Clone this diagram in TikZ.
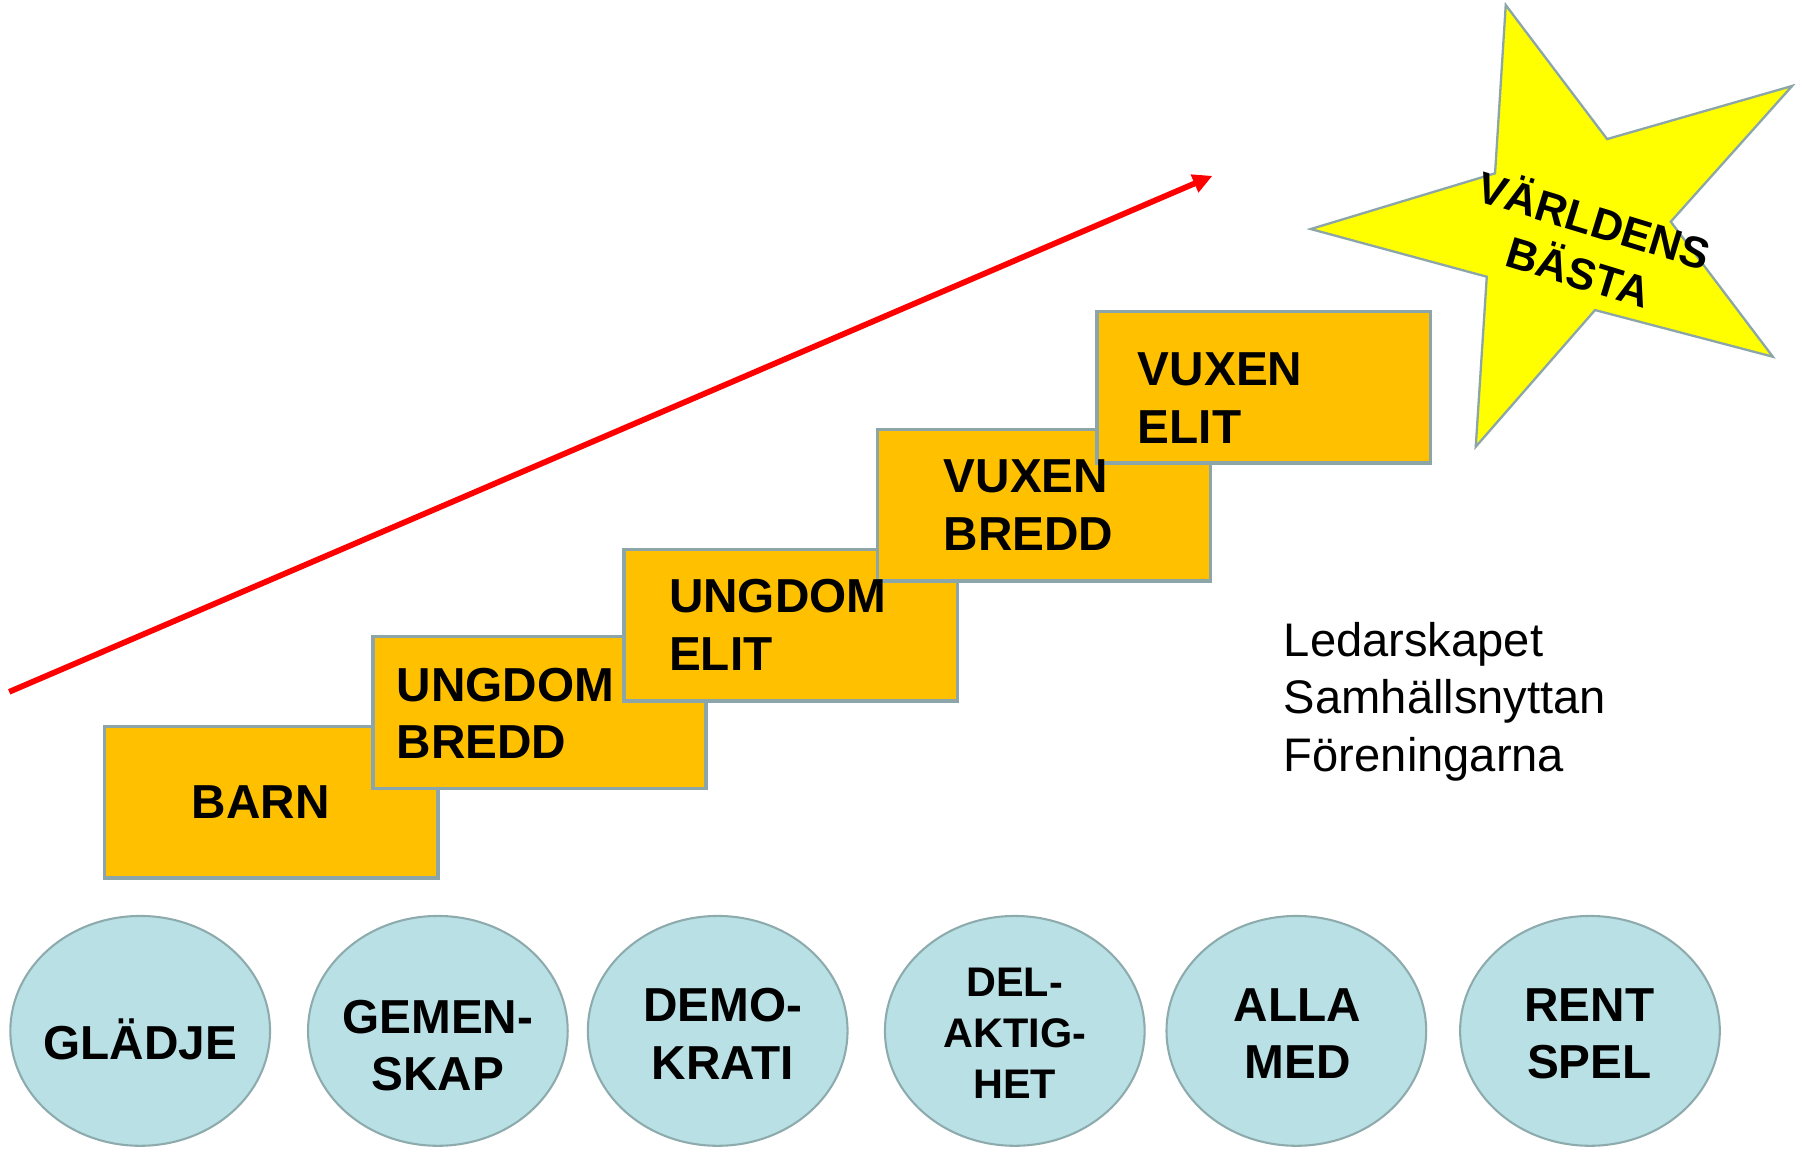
\documentclass[tikz,border=0pt]{standalone}
\usepackage{fontspec}
\setmainfont{Liberation Sans}
\usetikzlibrary{shapes.geometric,arrows.meta}
\definecolor{boxfill}{HTML}{FFC000}
\definecolor{boxline}{HTML}{8CA5A8}
\definecolor{ellfill}{HTML}{B9E0E4}
\definecolor{ellline}{HTML}{8DAAAD}
\definecolor{starfill}{HTML}{FFFF00}
\begin{document}
\begin{tikzpicture}[x=1pt,y=-1pt,
  stepbox/.style={draw=boxline,line width=3pt,fill=boxfill,rectangle,inner sep=0pt,minimum width=290pt,minimum height=132pt},
  boxtxt/.style={font=\bfseries\fontsize{41.5}{50}\selectfont,inner sep=0pt,align=left},
  valell/.style={draw=ellline,line width=1.8pt,fill=ellfill,ellipse,inner sep=0pt,minimum width=226pt,minimum height=200pt},
  elltxt/.style={font=\bfseries\fontsize{41.5}{50}\selectfont,inner sep=0pt,align=center},
  smalltxt/.style={font=\bfseries\fontsize{36}{44.5}\selectfont,inner sep=0pt,align=center},
  arrowline/.style={draw=red,line width=5pt,-{Triangle[length=17pt,width=16pt]}}
]
\useasboundingbox (0,0) rectangle (1568,1002);

% arrow
\coordinate (a0) at (8,602);
\coordinate (a1) at (1055,153);
\draw[arrowline] (a0) -- (a1);

% star
\draw[draw=boxline,line width=2pt,fill=starfill,line join=miter]
  (1310.2,4.4) -- (1398.4,121) -- (1559.4,74.8) -- (1453.8,192.9) -- (1542.6,310.4)
  -- (1387.9,269.8) -- (1284.1,388.7) -- (1293.7,240.8) -- (1140.5,199.3)
  -- (1300.9,150.8) -- cycle;
\node[font=\bfseries\fontsize{38}{47}\selectfont,align=center,rotate=-17,inner sep=0pt] (star) at (1381,212) {VÄRLDENS\\BÄSTA};

% steps
\node[stepbox] (b1) at (236,698) {};
\node[stepbox] (b2) at (469.5,620) {};
\node[stepbox] (b3) at (688,544) {};
\node[stepbox] (b4) at (908.5,439.5) {};
\node[stepbox] (b5) at (1099.5,337) {};

\node[boxtxt,anchor=base] (t1) at (227,712) {BARN};
\node[boxtxt,anchor=north west] (t2) at (345,581) {UNGDOM\\BREDD};
\node[boxtxt,anchor=north west] (t3) at (582,504) {UNGDOM\\ELIT};
\node[boxtxt,anchor=north west] (t4) at (821,400) {VUXEN\\BREDD};
\node[boxtxt,anchor=north west] (t5) at (990,307) {VUXEN\\ELIT};

% side text
\node[font=\fontsize{41}{50}\selectfont,align=left,inner sep=0pt,anchor=north west] (side) at (1117,541)
  {Ledarskapet\\Samhällsnyttan\\Föreningarna};

% values
\node[valell] (e1) at (122,897) {};
\node[valell] (e2) at (381,897) {};
\node[valell] (e3) at (624.5,897) {};
\node[valell] (e4) at (883,897) {};
\node[valell] (e5) at (1128,897) {};
\node[valell] (e6) at (1383.5,897) {};

\node[elltxt,anchor=base] (v1) at (122,922) {GLÄDJE};
\node[elltxt,anchor=north] (v2) at (381,870) {GEMEN-\\SKAP};
\node[elltxt,anchor=north] (v3) at (629,860) {DEMO-\\KRATI};
\node[smalltxt,anchor=north] (v4) at (883,842) {DEL-\\AKTIG-\\HET};
\node[elltxt,anchor=north] (v5) at (1129,860) {ALLA\\MED};
\node[elltxt,anchor=north] (v6) at (1383,860) {RENT\\SPEL};
\end{tikzpicture}
\end{document}
